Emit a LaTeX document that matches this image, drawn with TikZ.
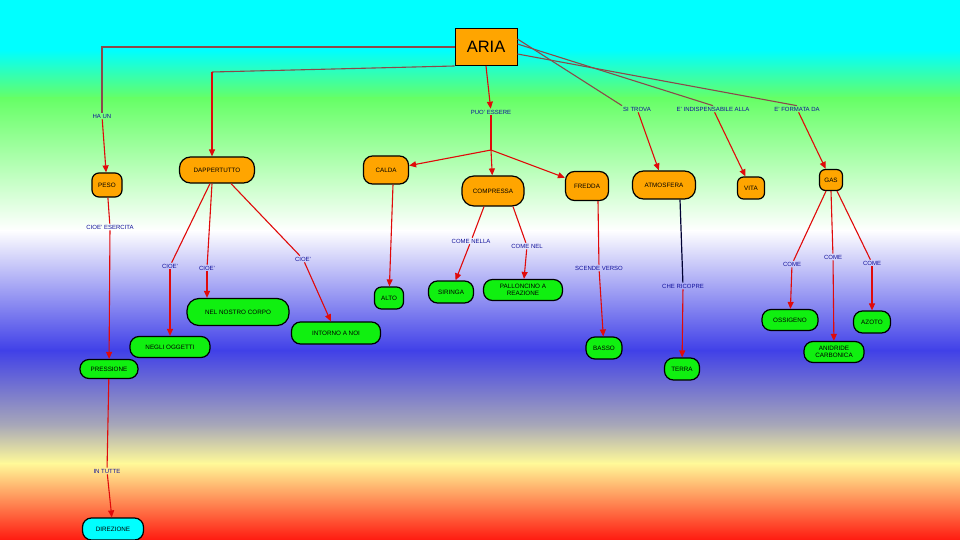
\documentclass[tikz,border=0pt]{standalone}
\usepackage{fontspec}
\setmainfont{Liberation Sans}
\usetikzlibrary{arrows.meta}
\definecolor{bgcyan}{HTML}{00FFFF}
\definecolor{bggreen}{HTML}{66FF66}
\definecolor{bgblue}{HTML}{4040E8}
\definecolor{bglav}{HTML}{A8A8B8}
\definecolor{bgyel}{HTML}{FFFA99}
\definecolor{bgred}{HTML}{FF1A10}
\definecolor{nodeorange}{HTML}{FFA500}
\definecolor{nodegreen}{HTML}{10F010}
\definecolor{nodecyan}{HTML}{00FFFF}
\definecolor{lblblue}{HTML}{10109A}
\definecolor{linered}{HTML}{E00A0A}
\definecolor{linebrown}{HTML}{8A4A4A}
\tikzset{
  box/.style={draw=black, line width=1.2pt, rounded corners=9pt, inner sep=0pt, align=center,
              font=\fontsize{6.3}{6.8}\selectfont, text=black},
  obox/.style={box, fill=nodeorange},
  gbox/.style={box, fill=nodegreen},
  cbox/.style={box, fill=nodecyan},
  lbl/.style={inner sep=1pt, font=\fontsize{6}{6.5}\selectfont, text=lblblue},
  rl/.style={draw=linered, line width=1.1pt},
  bl/.style={draw=linebrown, line width=1.1pt},
  ra/.style={draw=linered, line width=1.1pt, -{Triangle[length=7pt,width=6pt]}, color=linered},
}
\begin{document}
\begin{tikzpicture}[x=1pt,y=-1pt]
\useasboundingbox (0,0) rectangle (960,540);
% background
\fill[bgcyan] (0,0) rectangle (960,50.5);
\shade[top color=bgcyan, bottom color=bggreen] (0,50) rectangle (960,98.5);
\shade[top color=bggreen, bottom color=white] (0,98) rectangle (960,230.5);
\shade[top color=white, bottom color=bgblue] (0,230) rectangle (960,350.5);
\shade[top color=bgblue, bottom color=bglav] (0,350) rectangle (960,425.5);
\shade[top color=bglav, bottom color=bgyel] (0,425) rectangle (960,463.5);
\shade[top color=bgyel, bottom color=bgred] (0,463) rectangle (960,540);

% main node
\node[draw=black, line width=1pt, fill=nodeorange, minimum width=62pt, minimum height=37pt,
      font=\fontsize{16.5}{16.5}\selectfont] (aria) at (486,47) {ARIA};

% labels
\node[lbl] (haun) at (102,116) {HA UN};
\node[lbl] (esercita) at (110,227) {CIOE' ESERCITA};
\node[lbl] (intutte) at (107,471) {IN TUTTE};
\node[lbl] (cioe1) at (170,266) {CIOE'};
\node[lbl] (cioe2) at (207,268) {CIOE'};
\node[lbl] (cioe3) at (303,259) {CIOE'};
\node[lbl] (puo) at (491,112) {PUO' ESSERE};
\node[lbl] (nella) at (471,241) {COME NELLA};
\node[lbl] (nel) at (527,246) {COME NEL};
\node[lbl] (scende) at (599,268) {SCENDE VERSO};
\node[lbl] (sitrova) at (637,109) {SI TROVA};
\node[lbl] (ricopre) at (683,286) {CHE RICOPRE};
\node[lbl] (indisp) at (713,109) {E' INDISPENSABILE ALLA};
\node[lbl] (formata) at (797,109) {E' FORMATA DA};
\node[lbl] (come1) at (792,264) {COME};
\node[lbl] (come2) at (833,257) {COME};
\node[lbl] (come3) at (872,263) {COME};

% concept nodes
\node[obox, minimum width=30pt, minimum height=24pt, rounded corners=7pt] (peso) at (107,185) {PESO};
\node[obox, minimum width=75pt, minimum height=26pt, rounded corners=11pt] (dapp) at (217,170) {DAPPERTUTTO};
\node[obox, minimum width=45pt, minimum height=28pt] (calda) at (386,170) {CALDA};
\node[obox, minimum width=62pt, minimum height=30pt, rounded corners=12pt] (compressa) at (493,191) {COMPRESSA};
\node[obox, minimum width=43pt, minimum height=29pt] (fredda) at (587,186) {FREDDA};
\node[obox, minimum width=63pt, minimum height=28pt, rounded corners=11pt] (atmo) at (664,185) {ATMOSFERA};
\node[obox, minimum width=27pt, minimum height=22pt, rounded corners=6pt] (vita) at (751,188) {VITA};
\node[obox, minimum width=23pt, minimum height=21pt, rounded corners=6pt] (gas) at (831,180) {GAS};

\node[gbox, minimum width=58pt, minimum height=19pt] (pressione) at (109,369) {PRESSIONE};
\node[cbox, minimum width=61pt, minimum height=22pt] (direzione) at (113,529) {DIREZIONE};
\node[gbox, minimum width=80pt, minimum height=21pt] (negli) at (170,347) {NEGLI OGGETTI};
\node[gbox, minimum width=102pt, minimum height=27pt, rounded corners=12pt] (corpo) at (238,312) {NEL NOSTRO CORPO};
\node[gbox, minimum width=89pt, minimum height=22pt] (intorno) at (336,333) {INTORNO A NOI};
\node[gbox, minimum width=29pt, minimum height=22pt, rounded corners=7pt] (alto) at (389,298) {ALTO};
\node[gbox, minimum width=45pt, minimum height=22pt] (siringa) at (451,292) {SIRINGA};
\node[gbox, minimum width=79pt, minimum height=21pt] (pallon) at (523,290) {PALLONCINO A\\REAZIONE};
\node[gbox, minimum width=36pt, minimum height=22pt] (basso) at (604,348) {BASSO};
\node[gbox, minimum width=35pt, minimum height=22pt] (terra) at (682,369) {TERRA};
\node[gbox, minimum width=56pt, minimum height=21pt] (ossigeno) at (790,320) {OSSIGENO};
\node[gbox, minimum width=37pt, minimum height=22pt] (azoto) at (872,322) {AZOTO};
\node[gbox, minimum width=60pt, minimum height=21pt] (anidride) at (834,352) {ANIDRIDE\\CARBONICA};

% connectors from ARIA
\draw[bl] (aria.west) -| (haun.north);
\coordinate (c1) at (212,72);
\draw[bl] (aria.south west) -- (c1);
\draw[ra] (c1) -- (c1 |- dapp.north);
\draw[ra] (aria.south) -- (puo);
\draw[bl] ([yshift=8pt]aria.east) -- (sitrova.north west);
\draw[bl] ([yshift=3pt]aria.east) -- (indisp.north);
\draw[bl] ([yshift=-7pt]aria.east) -- (formata.north);

% PESO branch
\draw[ra] (haun) -- (peso);
\draw[rl] (peso) -- (esercita);
\draw[ra] (esercita) -- (pressione);
\draw[rl] (pressione) -- (intutte);
\draw[ra] (intutte) -- (direzione);

% DAPPERTUTTO branch
\draw[rl] ([xshift=-7pt]dapp.south) -- (cioe1);
\draw[ra] (cioe1) -- (negli);
\draw[rl] ([xshift=-5pt]dapp.south) -- (cioe2);
\draw[ra] (cioe2) -- (cioe2 |- corpo.north);
\draw[rl] ([xshift=14pt]dapp.south) -- (cioe3);
\draw[ra] (cioe3) -- (intorno);

% PUO' ESSERE branch
\coordinate (br) at (491,150);
\draw[rl] (puo) -- (br);
\draw[ra] (br) -- (calda);
\draw[ra] (br) -- (compressa);
\draw[ra] (br) -- (fredda);
\draw[ra] ([xshift=7pt]calda.south) -- (alto);
\draw[rl] ([xshift=-9pt]compressa.south) -- (nella);
\draw[ra] (nella) -- (siringa);
\draw[rl] ([xshift=20pt]compressa.south) -- (nel);
\draw[ra] (nel) -- (pallon);
\draw[rl] ([xshift=11pt]fredda.south) -- (scende);
\draw[ra] (scende) -- (basso);

% right branches
\draw[ra] (sitrova) -- (atmo);
\draw[draw=black!80!blue, line width=1.2pt] ([xshift=16pt]atmo.south) -- (ricopre);
\draw[ra] (ricopre) -- (terra);
\draw[ra] (indisp) -- (vita);
\draw[ra] (formata) -- (gas);
\draw[rl] ([xshift=-5pt]gas.south) -- (come1);
\draw[ra] (come1) -- (ossigeno);
\draw[rl] (gas.south) -- (come2);
\draw[ra] (come2) -- (anidride);
\draw[rl] ([xshift=6pt]gas.south) -- (come3);
\draw[ra] (come3) -- (azoto);
\end{tikzpicture}
\end{document}
